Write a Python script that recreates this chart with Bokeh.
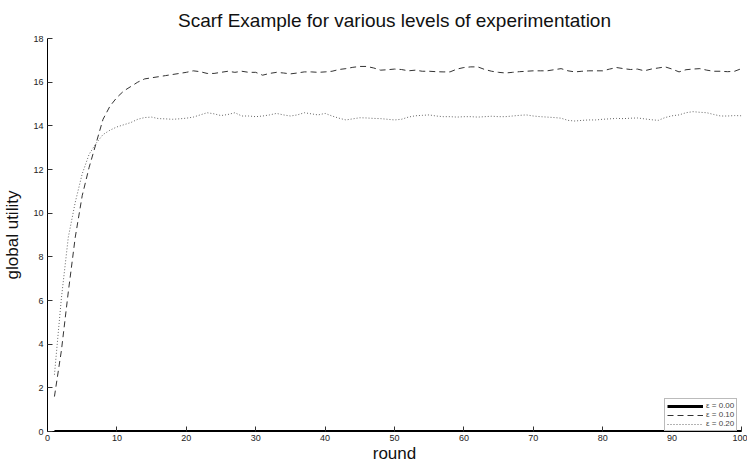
from bokeh.plotting import figure
from bokeh.models import Range1d, Legend, LegendItem, FixedTicker
from bokeh.embed import file_html
from bokeh.resources import INLINE

rounds = list(range(1, 101))

eps_000 = [0.0] * 100

eps_010 = [1.6, 3.7, 6.4, 8.9, 10.8, 12.1, 13.2, 14.3, 14.9, 15.3,
           15.6, 15.8, 16.0, 16.15, 16.2, 16.25, 16.3, 16.35, 16.4, 16.45,
           16.52, 16.48, 16.4, 16.4, 16.45, 16.5, 16.45, 16.5, 16.45, 16.45,
           16.32, 16.4, 16.45, 16.42, 16.38, 16.42, 16.47, 16.47, 16.45, 16.47,
           16.5, 16.58, 16.62, 16.68, 16.72, 16.72, 16.65, 16.55, 16.57, 16.6,
           16.58, 16.52, 16.55, 16.5, 16.5, 16.48, 16.47, 16.47, 16.6, 16.67,
           16.7, 16.7, 16.58, 16.5, 16.45, 16.42, 16.45, 16.48, 16.5, 16.52,
           16.52, 16.52, 16.57, 16.62, 16.52, 16.47, 16.5, 16.52, 16.52, 16.52,
           16.6, 16.67, 16.62, 16.58, 16.6, 16.52, 16.6, 16.65, 16.7, 16.6,
           16.47, 16.57, 16.6, 16.62, 16.55, 16.5, 16.5, 16.48, 16.5, 16.62]

eps_020 = [2.6, 6.1, 8.9, 10.5, 11.8, 12.7, 13.2, 13.6, 13.8, 13.95,
           14.05, 14.15, 14.3, 14.38, 14.4, 14.33, 14.32, 14.3, 14.32, 14.35,
           14.4, 14.5, 14.6, 14.55, 14.47, 14.52, 14.6, 14.45, 14.45, 14.42,
           14.45, 14.5, 14.57, 14.5, 14.45, 14.5, 14.6, 14.55, 14.5, 14.57,
           14.45, 14.35, 14.27, 14.32, 14.37, 14.36, 14.34, 14.33, 14.3, 14.27,
           14.3, 14.4, 14.46, 14.48, 14.5, 14.45, 14.42, 14.42, 14.4, 14.42,
           14.42, 14.4, 14.42, 14.44, 14.42, 14.42, 14.45, 14.48, 14.5, 14.45,
           14.42, 14.4, 14.38, 14.35, 14.25, 14.22, 14.25, 14.27, 14.27, 14.3,
           14.32, 14.34, 14.33, 14.35, 14.36, 14.32, 14.28, 14.25, 14.38, 14.46,
           14.5, 14.6, 14.65, 14.62, 14.6, 14.52, 14.45, 14.45, 14.47, 14.46]

series_labels = ["ε = 0.00", "ε = 0.10", "ε = 0.20"]
x_ticks = [0, 10, 20, 30, 40, 50, 60, 70, 80, 90, 100]
y_ticks = [0, 2, 4, 6, 8, 10, 12, 14, 16, 18]

FONT = "Liberation Sans"

p = figure(width=747, height=465, output_backend="svg", toolbar_location=None,
           x_range=Range1d(0, 100), y_range=Range1d(0, 18),
           min_border_left=46, min_border_right=6, min_border_top=38,
           min_border_bottom=30)
p.outline_line_color = None
p.xgrid.visible = False
p.ygrid.visible = False
p.background_fill_color = "white"
p.border_fill_color = "white"

p.title.text = "Scarf Example for various levels of experimentation"
p.title.align = "center"
p.title.text_font = FONT
p.title.text_font_size = "19px"
p.title.text_font_style = "normal"
p.title.text_color = "#111111"
p.title.offset = 0
p.title.standoff = 15

for ax, ticks in ((p.xaxis[0], x_ticks), (p.yaxis[0], y_ticks)):
    ax.ticker = FixedTicker(ticks=ticks)
    ax.major_tick_in = 5
    ax.major_tick_out = 0
    ax.minor_tick_in = 0
    ax.minor_tick_out = 0
    ax.axis_line_color = "black"
    ax.major_tick_line_color = "#333333"
    ax.major_label_text_font = FONT
    ax.major_label_text_font_size = "9px"
    ax.major_label_text_color = "#222222"
    ax.axis_label_text_font = FONT
    ax.axis_label_text_font_size = "17px"
    ax.axis_label_text_font_style = "normal"
    ax.axis_label_text_color = "#111111"

p.xaxis.axis_label = "round"
p.yaxis.axis_label = "global utility"
p.xaxis.major_label_standoff = 3
p.yaxis.major_label_standoff = 4
p.xaxis.axis_label_standoff = 0
p.yaxis.axis_label_standoff = 8

r0 = p.line(rounds, eps_000, line_color="black", line_width=3)
r1 = p.line(rounds, eps_010, line_color="#333333", line_width=1, line_dash="6 4")
r2 = p.line(rounds, eps_020, line_color="#666666", line_width=1, line_dash="1 2")

legend = Legend(items=[LegendItem(label=series_labels[0], renderers=[r0]),
                       LegendItem(label=series_labels[1], renderers=[r1]),
                       LegendItem(label=series_labels[2], renderers=[r2])],
                location=(617, 0))
legend.label_text_font = FONT
legend.label_text_font_size = "8px"
legend.label_height = 6
legend.glyph_height = 6
legend.glyph_width = 36
legend.label_standoff = 3
legend.spacing = 0
legend.padding = 2
legend.margin = 0
legend.border_line_color = "#777777"
legend.border_line_width = 1
legend.background_fill_alpha = 1
p.add_layout(legend)

open("out.html", "w").write(file_html(p, INLINE))
